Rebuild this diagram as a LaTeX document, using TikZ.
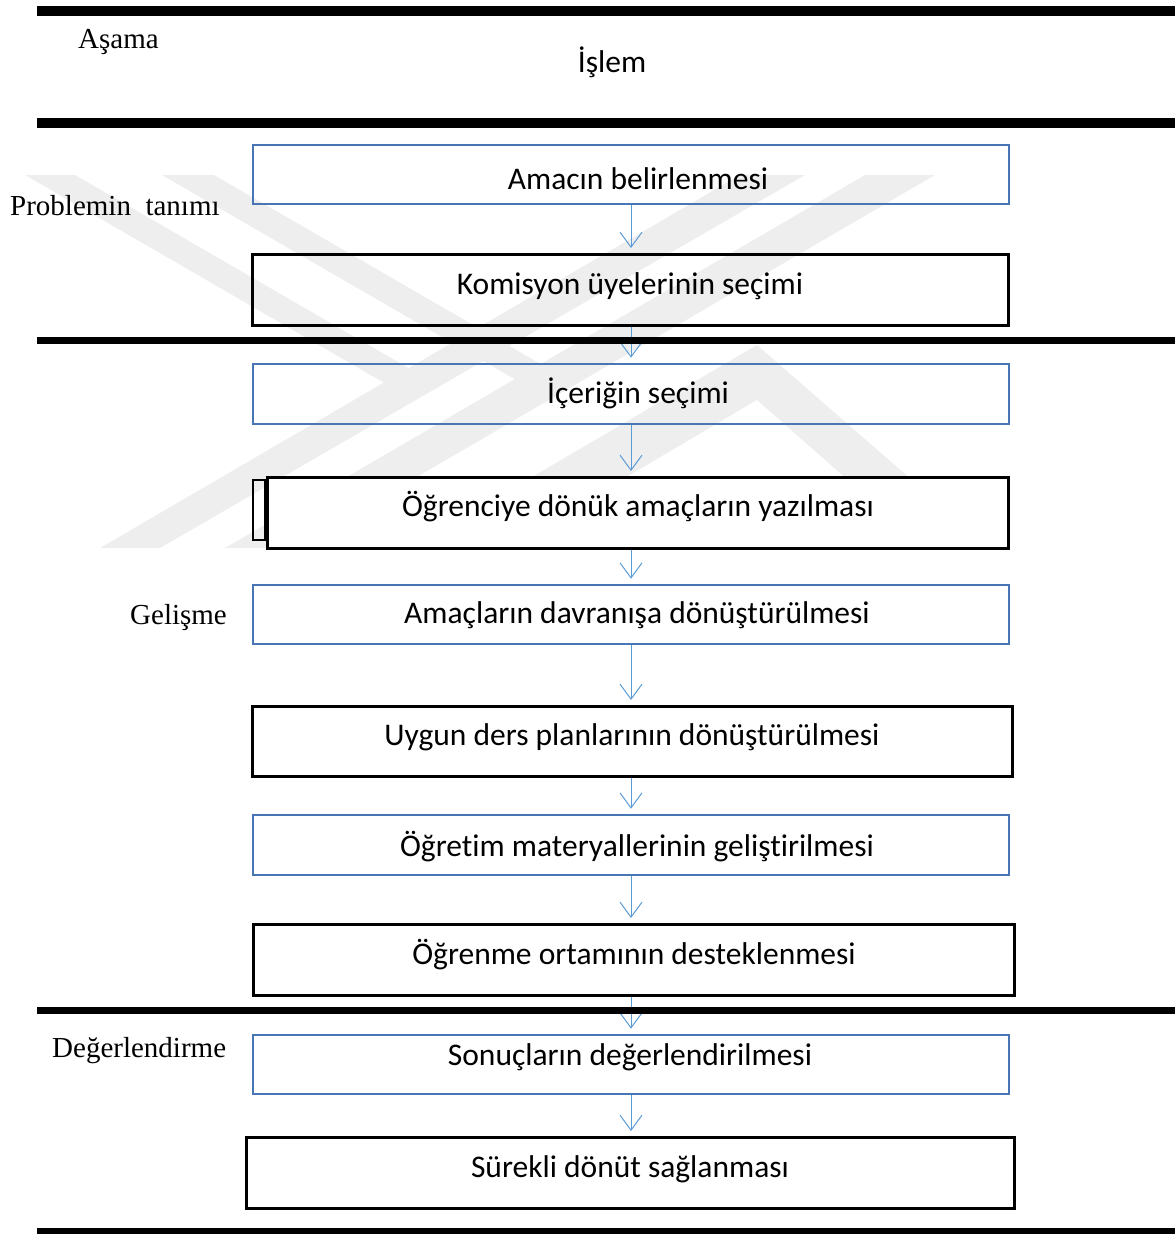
\documentclass[tikz,border=0pt]{standalone}
\usepackage{fontspec}
\setmainfont{Liberation Serif}
\newfontfamily\boxfont[Ligatures=NoCommon]{Carlito}
\usetikzlibrary{arrows.meta}
\definecolor{boxblue}{HTML}{4677B4}
\definecolor{arrowblue}{HTML}{5B9BD5}
\definecolor{markgray}{HTML}{EEEEEE}
\begin{document}
\begin{tikzpicture}[x=1pt,y=-1pt,
  rule/.style={line width=#1},
  bluebox/.style={draw=boxblue, line width=2.6pt, inner sep=0pt},
  blackbox/.style={draw=black, line width=3pt, inner sep=0pt},
  boxtext/.style={font=\boxfont\fontsize{31.5}{36}\selectfont, inner sep=0pt, anchor=base},
  stagetext/.style={font=\fontsize{29}{34}\selectfont, inner sep=0pt, anchor=base west},
  flow/.style={draw=arrowblue, line width=1pt,
    -{Straight Barb[length=15pt,width=22pt,line width=1pt]}, shorten >=5pt},
  mark/.style={fill=markgray, draw=none}]
\useasboundingbox (0,0) rectangle (1175,1234);

% faint emblem in the background
\fill[markgray] (740,175) -- (805,175) -- (160,548) -- (100,548) -- cycle;
\fill[markgray] (865,175) -- (935,175) -- (295,548) -- (225,548) -- cycle;
\fill[markgray] (25,175) -- (75,175) -- (436,384) -- (386,384) -- cycle;
\fill[markgray] (162,175) -- (214,175) -- (570,381) -- (518,381) -- cycle;
\fill[markgray] (757,345) -- (990,548) -- (925,548) -- (757,400)
  -- (506,548) -- (411,548) -- cycle;

% column headings
\node[stagetext] (hstage) at (78,48) {Aşama};
\node[boxtext] (hstep) at (612,72) {İşlem};

% stage names
\node[stagetext] (s1) at (10,215) {Problemin\ \ tanımı};
\node[stagetext] (s2) at (130,624) {Gelişme};
\node[stagetext] (s3) at (52,1057) {Değerlendirme};

% process boxes
\node[bluebox,  minimum width=756, minimum height=59] (b1) at (631,174.5) {};
\node[blackbox, minimum width=756, minimum height=71] (b2) at (630.5,290) {};
\node[bluebox,  minimum width=756, minimum height=60] (b3) at (631,394) {};
\node[draw=black, line width=2.5pt, minimum width=12, minimum height=60, inner sep=0pt] (b4tab) at (259,510) {};
\node[blackbox, fill=white, minimum width=741, minimum height=71] (b4) at (638,513) {};
\node[bluebox,  minimum width=756, minimum height=59] (b5) at (631,614.5) {};
\node[blackbox, minimum width=760, minimum height=70] (b6) at (632.5,741.5) {};
\node[bluebox,  minimum width=756, minimum height=60] (b7) at (631,845) {};
\node[blackbox, minimum width=761, minimum height=71] (b8) at (634,960) {};
\node[bluebox,  minimum width=756, minimum height=59] (b9) at (631,1064.5) {};
\node[blackbox, minimum width=768, minimum height=71] (b10) at (630.5,1173) {};

% box captions
\node[boxtext] (t1) at (638,189) {Amacın belirlenmesi};
\node[boxtext] (t2) at (630,294) {Komisyon üyelerinin seçimi};
\node[boxtext] (t3) at (638,403) {İçeriğin seçimi};
\node[boxtext] (t4) at (638,516) {Öğrenciye dönük amaçların yazılması};
\node[boxtext] (t5) at (637,623) {Amaçların davranışa dönüştürülmesi};
\node[boxtext] (t6) at (632,745) {Uygun ders planlarının dönüştürülmesi};
\node[boxtext] (t7) at (637,856) {Öğretim materyallerinin geliştirilmesi};
\node[boxtext] (t8) at (634,964) {Öğrenme ortamının desteklenmesi};
\node[boxtext] (t9) at (630,1065) {Sonuçların değerlendirilmesi};
\node[boxtext] (t10) at (630,1177) {Sürekli dönüt sağlanması};

% flow arrows along one vertical spine
\coordinate (spine) at (631,0);
\foreach \a/\b in {b1/b2, b2/b3, b3/b4, b4/b5, b5/b6, b6/b7, b7/b8, b8/b9, b9/b10}
  \draw[flow] (\a.south -| spine) -- (\b.north -| spine);

% horizontal table rules
\draw[rule=10pt] (37,11) -- (1175,11);
\draw[rule=10pt] (37,123) -- (1175,123);
\draw[rule=7pt] (37,340) -- (1175,340);
\draw[rule=7pt] (37,1010) -- (1175,1010);
\draw[rule=7pt] (37,1231.5) -- (1175,1231.5);
\end{tikzpicture}
\end{document}
